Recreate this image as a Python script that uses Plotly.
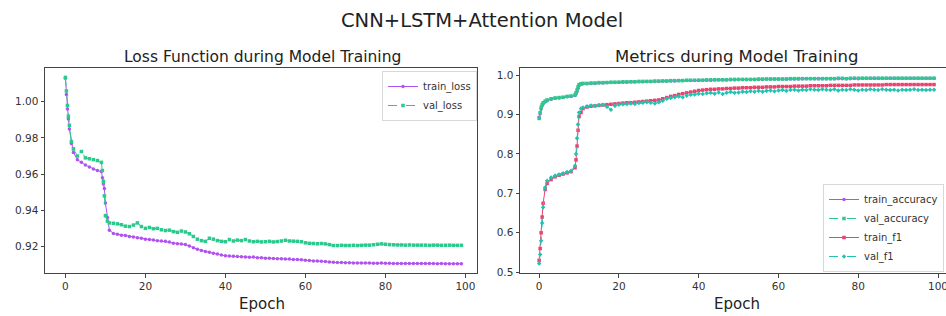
import plotly.graph_objects as go

W, H = 946, 316

# ---------------- data ----------------
epochs = [0, 0.25, 0.5, 0.75, 1, 1.5, 2, 3, 4, 5, 6, 7, 8, 9, 9.25, 9.5, 9.75, 10, 10.5, 11] + list(range(12, 100))

train_loss = [
    1.0130, 1.0040, 0.9960, 0.9905, 0.9850, 0.9770, 0.9720, 0.9680, 0.9665, 0.9650,
    0.9640, 0.9628, 0.9620, 0.9615, 0.9580, 0.9545, 0.9520, 0.9440, 0.9360, 0.9290,
    0.9272, 0.9268, 0.9262, 0.9260, 0.9255, 0.9252, 0.9248, 0.9245, 0.9240, 0.9238,
    0.9235, 0.9232, 0.9230, 0.9228, 0.9224, 0.9218, 0.9215, 0.9213, 0.9210, 0.9202,
    0.9192, 0.9185, 0.9178, 0.9172, 0.9168, 0.9162, 0.9158, 0.9152, 0.9148, 0.9147,
    0.9145, 0.9144, 0.9143, 0.9142, 0.9140, 0.9141, 0.9138, 0.9137, 0.9135, 0.9134,
    0.9133, 0.9132, 0.9132, 0.9131, 0.9130, 0.9128, 0.9127, 0.9126, 0.9124, 0.9122,
    0.9120, 0.9119, 0.9118, 0.9116, 0.9114, 0.9112, 0.9111, 0.9111, 0.9110, 0.9110,
    0.9109, 0.9109, 0.9108, 0.9108, 0.9108, 0.9107, 0.9107, 0.9108, 0.9107, 0.9107,
    0.9106, 0.9106, 0.9106, 0.9106, 0.9105, 0.9106, 0.9105, 0.9105, 0.9105, 0.9105,
    0.9105, 0.9104, 0.9105, 0.9104, 0.9104, 0.9104, 0.9104, 0.9104,
]

val_loss = [
    1.0135, 1.0060, 0.9980, 0.9920, 0.9870, 0.9780, 0.9740, 0.9700, 0.9725, 0.9690,
    0.9685, 0.9680, 0.9675, 0.9665, 0.9620, 0.9560, 0.9480, 0.9370, 0.9340, 0.9330,
    0.9328, 0.9325, 0.9320, 0.9312, 0.9310, 0.9318, 0.9330, 0.9310, 0.9300, 0.9305,
    0.9298, 0.9300, 0.9292, 0.9288, 0.9290, 0.9282, 0.9278, 0.9285, 0.9280, 0.9270,
    0.9255, 0.9240, 0.9232, 0.9228, 0.9245, 0.9240, 0.9232, 0.9228, 0.9226, 0.9238,
    0.9230, 0.9235, 0.9232, 0.9238, 0.9230, 0.9226, 0.9228, 0.9225, 0.9226, 0.9228,
    0.9225, 0.9227, 0.9230, 0.9234, 0.9230, 0.9229, 0.9228, 0.9226, 0.9220, 0.9217,
    0.9216, 0.9215, 0.9216, 0.9214, 0.9210, 0.9205, 0.9205, 0.9206, 0.9205, 0.9205,
    0.9206, 0.9205, 0.9206, 0.9207, 0.9207, 0.9209, 0.9212, 0.9214, 0.9212, 0.9210,
    0.9209, 0.9208, 0.9208, 0.9207, 0.9208, 0.9207, 0.9207, 0.9207, 0.9207, 0.9206,
    0.9207, 0.9207, 0.9206, 0.9206, 0.9207, 0.9206, 0.9206, 0.9206,
]

train_accuracy = [
    0.893, 0.902, 0.914, 0.922, 0.927, 0.932, 0.935, 0.939, 0.941, 0.942,
    0.943, 0.945, 0.946, 0.948, 0.952, 0.958, 0.966, 0.973, 0.977, 0.978,
    0.978, 0.979, 0.979, 0.980, 0.980, 0.981, 0.981, 0.981, 0.982, 0.982,
    0.982, 0.983, 0.983, 0.983, 0.983, 0.984, 0.984, 0.984, 0.984, 0.985,
    0.985, 0.985, 0.985, 0.986, 0.986, 0.986, 0.986, 0.986, 0.987, 0.987,
    0.987, 0.987, 0.988, 0.988, 0.988, 0.988, 0.988, 0.988, 0.989, 0.989,
    0.989, 0.989, 0.989, 0.989, 0.989, 0.990, 0.990, 0.990, 0.990, 0.990,
    0.990, 0.990, 0.990, 0.990, 0.991, 0.991, 0.991, 0.991, 0.991, 0.991,
    0.991, 0.991, 0.991, 0.991, 0.991, 0.991, 0.991, 0.992, 0.991, 0.992,
    0.992, 0.992, 0.992, 0.992, 0.992, 0.992, 0.992, 0.992, 0.992, 0.992,
    0.992, 0.992, 0.992, 0.992, 0.992, 0.992, 0.992, 0.992,
]

val_accuracy = [
    0.890, 0.905, 0.918, 0.925, 0.930, 0.934, 0.937, 0.940, 0.942, 0.943,
    0.944, 0.946, 0.947, 0.950, 0.955, 0.962, 0.970, 0.976, 0.978, 0.979,
    0.979, 0.980, 0.980, 0.981, 0.981, 0.981, 0.982, 0.982, 0.982, 0.983,
    0.983, 0.983, 0.983, 0.984, 0.984, 0.984, 0.984, 0.985, 0.985, 0.985,
    0.985, 0.986, 0.986, 0.986, 0.986, 0.987, 0.987, 0.987, 0.987, 0.987,
    0.988, 0.988, 0.988, 0.988, 0.988, 0.988, 0.989, 0.989, 0.989, 0.989,
    0.989, 0.989, 0.989, 0.990, 0.990, 0.990, 0.990, 0.990, 0.990, 0.990,
    0.990, 0.991, 0.991, 0.991, 0.991, 0.991, 0.991, 0.991, 0.991, 0.991,
    0.991, 0.991, 0.991, 0.992, 0.992, 0.991, 0.992, 0.992, 0.992, 0.992,
    0.992, 0.992, 0.992, 0.992, 0.992, 0.992, 0.992, 0.992, 0.992, 0.992,
    0.992, 0.992, 0.992, 0.992, 0.992, 0.992, 0.992, 0.992,
]

train_f1 = [
    0.530, 0.560, 0.600, 0.640, 0.675, 0.710, 0.725, 0.735, 0.742, 0.746,
    0.749, 0.752, 0.755, 0.765, 0.785, 0.820, 0.860, 0.895, 0.905, 0.915,
    0.919, 0.921, 0.922, 0.923, 0.924, 0.925, 0.926, 0.927, 0.928, 0.929,
    0.930, 0.930, 0.931, 0.932, 0.933, 0.934, 0.935, 0.936, 0.937, 0.940,
    0.943, 0.946, 0.948, 0.951, 0.953, 0.955, 0.957, 0.959, 0.961, 0.962,
    0.963, 0.964, 0.964, 0.965, 0.965, 0.966, 0.966, 0.967, 0.967, 0.968,
    0.968, 0.968, 0.969, 0.969, 0.969, 0.970, 0.970, 0.970, 0.971, 0.971,
    0.971, 0.971, 0.972, 0.972, 0.972, 0.972, 0.973, 0.973, 0.973, 0.973,
    0.973, 0.974, 0.974, 0.974, 0.974, 0.974, 0.974, 0.975, 0.975, 0.975,
    0.975, 0.975, 0.975, 0.975, 0.975, 0.976, 0.976, 0.976, 0.976, 0.976,
    0.976, 0.976, 0.976, 0.976, 0.976, 0.976, 0.976, 0.976,
]

val_f1 = [
    0.522, 0.545, 0.580, 0.625, 0.665, 0.715, 0.732, 0.740, 0.745, 0.748,
    0.751, 0.754, 0.757, 0.770, 0.800, 0.840, 0.875, 0.905, 0.915, 0.918,
    0.921, 0.923, 0.922, 0.924, 0.925, 0.920, 0.912, 0.922, 0.925, 0.926,
    0.927, 0.928, 0.927, 0.929, 0.930, 0.931, 0.930, 0.928, 0.931, 0.935,
    0.940, 0.942, 0.944, 0.946, 0.944, 0.948, 0.950, 0.951, 0.953, 0.952,
    0.954, 0.955, 0.953, 0.956, 0.952, 0.955, 0.957, 0.955, 0.956, 0.958,
    0.957, 0.959, 0.958, 0.960, 0.958, 0.960, 0.961, 0.959, 0.961, 0.962,
    0.960, 0.962, 0.963, 0.961, 0.963, 0.962, 0.964, 0.963, 0.962, 0.964,
    0.963, 0.962, 0.964, 0.961, 0.963, 0.962, 0.964, 0.963, 0.961, 0.963,
    0.962, 0.964, 0.963, 0.962, 0.964, 0.963, 0.962, 0.963, 0.961, 0.963,
    0.962, 0.963, 0.964, 0.962, 0.963, 0.962, 0.963, 0.963,
]

loss_ticks = [0.92, 0.94, 0.96, 0.98, 1.00]
metric_ticks = [0.5, 0.6, 0.7, 0.8, 0.9, 1.0]
epoch_ticks = [0, 20, 40, 60, 80, 100]

# ---------------- styling ----------------
PURPLE = "#b052f2"
GREEN = "#2cc98c"
RED = "#e8446f"
TEAL = "#22c3b3"
FONT = "DejaVu Sans"
AX = "#444444"

def px_x(p):
    return p / W

def px_y(p):
    return 1 - p / H

fig = go.Figure()

def add(x, y, name, color, dash, symbol, xa, ya, legend):
    fig.add_trace(go.Scatter(
        x=x, y=y, name=name, mode="lines+markers",
        line=dict(color=color, width=1, dash=dash),
        marker=dict(color=color, size=3.5, symbol=symbol),
        xaxis=xa, yaxis=ya, legend=legend,
    ))

add(epochs, train_loss, "train_loss", PURPLE, "solid", "circle", "x", "y", "legend")
add(epochs, val_loss, "val_loss", GREEN, "dash", "square", "x", "y", "legend")
add(epochs, train_accuracy, "train_accuracy", PURPLE, "solid", "circle", "x2", "y2", "legend2")
add(epochs, val_accuracy, "val_accuracy", GREEN, "dash", "square", "x2", "y2", "legend2")
add(epochs, train_f1, "train_f1", RED, "solid", "square", "x2", "y2", "legend2")
add(epochs, val_f1, "val_f1", TEAL, "dash", "diamond", "x2", "y2", "legend2")

axis_common = dict(
    showgrid=False, zeroline=False, showline=True, linecolor=AX, linewidth=1,
    mirror=True, ticks="outside", ticklen=3.5, tickcolor=AX, tickwidth=1,
    automargin=False, ticklabeloverflow="allow",
    tickfont=dict(family=FONT, size=10.5, color="#333333"),
)

ydom = [px_y(273), px_y(68)]

legend_common = dict(
    bgcolor="rgba(255,255,255,0.85)", bordercolor="#d8d8d8", borderwidth=1,
    font=dict(family=FONT, size=10, color="#333333"),
    tracegroupgap=0, itemwidth=30,
)

fig.update_layout(
    template="none",
    width=W, height=H,
    margin=dict(l=0, r=0, t=0, b=0, autoexpand=False),
    paper_bgcolor="white", plot_bgcolor="white",
    font=dict(family=FONT, color="#222222"),
    xaxis=dict(domain=[px_x(45), px_x(477)], range=[-5.1, 102.9],
               tickvals=epoch_ticks, anchor="y", **axis_common),
    yaxis=dict(domain=ydom, range=[0.9053, 1.0187], tickvals=loss_ticks,
               tickformat=".2f", anchor="x", **axis_common),
    xaxis2=dict(domain=[px_x(520), 1.0], range=[-4.8, 102.0],
                tickvals=epoch_ticks, anchor="y2", **axis_common),
    yaxis2=dict(domain=ydom, range=[0.498, 1.018], tickvals=metric_ticks,
                tickformat=".1f", anchor="x2", **axis_common),
    legend=dict(x=px_x(477), y=px_y(71), xanchor="right", yanchor="top", **legend_common),
    legend2=dict(x=px_x(823), y=px_y(272), xanchor="left", yanchor="bottom", **legend_common),
    showlegend=True,
    annotations=[
        dict(text="CNN+LSTM+Attention Model", x=px_x(482), y=px_y(20), xref="paper", yref="paper",
             xanchor="center", yanchor="middle",
             showarrow=False, font=dict(family=FONT, size=19.5, color="#222222")),
        dict(text="Loss Function during Model Training", x=px_x(262), y=px_y(57), xref="paper", yref="paper",
             xanchor="center", yanchor="middle",
             showarrow=False, font=dict(family=FONT, size=15.5, color="#222222")),
        dict(text="Metrics during Model Training", x=px_x(737), y=px_y(56), xref="paper", yref="paper",
             xanchor="center", yanchor="middle",
             showarrow=False, font=dict(family=FONT, size=16.5, color="#222222")),
        dict(text="Epoch", x=px_x(262), y=px_y(304), xref="paper", yref="paper",
             xanchor="center", yanchor="middle",
             showarrow=False, font=dict(family=FONT, size=15, color="#222222")),
        dict(text="Epoch", x=px_x(737), y=px_y(304), xref="paper", yref="paper",
             xanchor="center", yanchor="middle",
             showarrow=False, font=dict(family=FONT, size=15, color="#222222")),
    ],
)

fig.write_html(
    "out.html",
    config={"displayModeBar": False},
    post_script="document.body.style.margin='0';document.body.style.padding='0';document.body.style.overflow='hidden';",
)
